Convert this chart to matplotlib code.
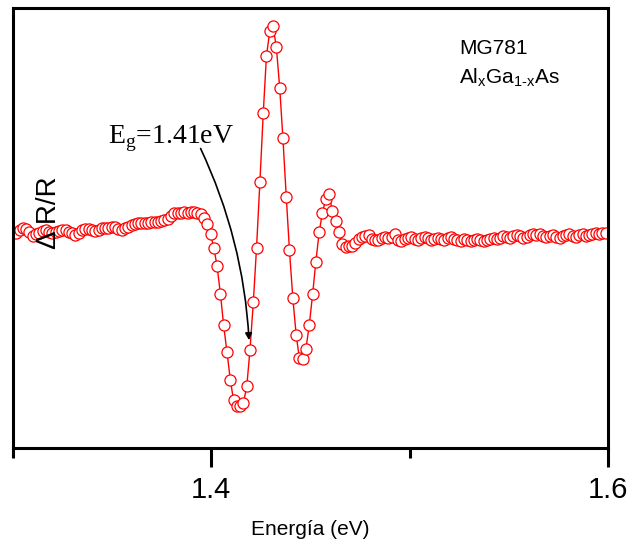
import matplotlib
matplotlib.use('Agg')
import matplotlib.pyplot as plt
from matplotlib.ticker import MultipleLocator

plt.rcParams['font.family'] = 'Liberation Sans'

# Photon energy (eV)
energy = [
    1.3000, 1.3017, 1.3033, 1.3050, 1.3066, 1.3083, 1.3100, 1.3116, 1.3133, 1.3149,
    1.3166, 1.3183, 1.3199, 1.3216, 1.3232, 1.3249, 1.3266, 1.3282, 1.3299, 1.3315,
    1.3332, 1.3349, 1.3365, 1.3382, 1.3398, 1.3415, 1.3432, 1.3448, 1.3465, 1.3481,
    1.3498, 1.3515, 1.3531, 1.3548, 1.3564, 1.3581, 1.3598, 1.3614, 1.3631, 1.3647,
    1.3664, 1.3681, 1.3697, 1.3714, 1.3730, 1.3747, 1.3764, 1.3780, 1.3797, 1.3813,
    1.3830, 1.3847, 1.3863, 1.3880, 1.3896, 1.3913, 1.3930, 1.3946, 1.3963, 1.3979,
    1.3996, 1.4013, 1.4029, 1.4046, 1.4062, 1.4079, 1.4096, 1.4112, 1.4129, 1.4145,
    1.4162, 1.4179, 1.4195, 1.4212, 1.4228, 1.4245, 1.4262, 1.4278, 1.4295, 1.4311,
    1.4328, 1.4345, 1.4361, 1.4378, 1.4394, 1.4411, 1.4428, 1.4444, 1.4461, 1.4477,
    1.4494, 1.4511, 1.4527, 1.4544, 1.4560, 1.4577, 1.4594, 1.4610, 1.4627, 1.4643,
    1.4660, 1.4677, 1.4693, 1.4710, 1.4726, 1.4743, 1.4760, 1.4776, 1.4793, 1.4809,
    1.4826, 1.4843, 1.4859, 1.4876, 1.4892, 1.4909, 1.4926, 1.4942, 1.4959, 1.4975,
    1.4992, 1.5009, 1.5025, 1.5042, 1.5058, 1.5075, 1.5092, 1.5108, 1.5125, 1.5141,
    1.5158, 1.5175, 1.5191, 1.5208, 1.5224, 1.5241, 1.5258, 1.5274, 1.5291, 1.5307,
    1.5324, 1.5341, 1.5357, 1.5374, 1.5390, 1.5407, 1.5424, 1.5440, 1.5457, 1.5473,
    1.5490, 1.5507, 1.5523, 1.5540, 1.5556, 1.5573, 1.5590, 1.5606, 1.5623, 1.5639,
    1.5656, 1.5673, 1.5689, 1.5706, 1.5722, 1.5739, 1.5756, 1.5772, 1.5789, 1.5805,
    1.5822, 1.5839, 1.5855, 1.5872, 1.5888, 1.5905, 1.5922, 1.5938, 1.5955, 1.5971,
    1.5988,
]

# Delta R / R (arbitrary units)
dr_r = [
    0.000, -0.005, 0.010, 0.020, 0.015, 0.000, -0.020, -0.010, -0.005, 0.005,
    0.010, 0.000, -0.005, 0.000, 0.005, 0.010, 0.010, 0.000, -0.005, -0.015,
    -0.005, 0.010, 0.015, 0.015, 0.010, 0.005, 0.010, 0.020, 0.020, 0.020,
    0.025, 0.025, 0.015, 0.010, 0.020, 0.025, 0.035, 0.040, 0.045, 0.045,
    0.045, 0.045, 0.050, 0.050, 0.050, 0.055, 0.060, 0.065, 0.080, 0.095,
    0.095, 0.095, 0.100, 0.095, 0.100, 0.100, 0.095, 0.090, 0.070, 0.040,
    -0.010, -0.080, -0.170, -0.310, -0.465, -0.600, -0.740, -0.840, -0.870, -0.870,
    -0.855, -0.770, -0.590, -0.350, -0.080, 0.250, 0.595, 0.880, 1.005, 1.030,
    0.925, 0.720, 0.470, 0.175, -0.090, -0.330, -0.515, -0.630, -0.635, -0.585,
    -0.465, -0.310, -0.150, 0.000, 0.095, 0.165, 0.190, 0.105, 0.055, 0.000,
    -0.060, -0.075, -0.070, -0.070, -0.055, -0.035, -0.025, -0.020, -0.015, -0.035,
    -0.040, -0.040, -0.030, -0.025, -0.030, -0.025, -0.010, -0.040, -0.045, -0.035,
    -0.030, -0.025, -0.035, -0.040, -0.030, -0.025, -0.030, -0.040, -0.035, -0.030,
    -0.035, -0.040, -0.030, -0.025, -0.035, -0.040, -0.045, -0.035, -0.040, -0.045,
    -0.040, -0.035, -0.040, -0.045, -0.040, -0.035, -0.030, -0.035, -0.030, -0.020,
    -0.025, -0.030, -0.020, -0.015, -0.020, -0.030, -0.025, -0.015, -0.010, -0.015,
    -0.010, -0.020, -0.025, -0.020, -0.015, -0.025, -0.030, -0.020, -0.015, -0.010,
    -0.020, -0.025, -0.015, -0.010, -0.020, -0.015, -0.010, -0.005, -0.010, -0.005,
    -0.005,
]

eg_label = 'E$_\\mathregular{g}$=1.41eV'
eg_value = 1.4191
sample_name = 'MG781'
alloy_label = 'Al$_\\mathregular{x}$Ga$_\\mathregular{1\u2010x}$As'

fig = plt.figure(figsize=(6.3, 5.45), dpi=100)
ax = fig.add_axes([0.0206, 0.178, 0.9444, 0.8073])

ax.plot(energy, dr_r, color='#ff0000', lw=1.0, marker='o', ms=8,
        mfc='white', mec='#ff0000', mew=0.9)

ax.set_xlim(1.3, 1.6)
ax.set_ylim(-1.08, 1.12)
ax.xaxis.set_major_locator(MultipleLocator(0.2))
ax.xaxis.set_minor_locator(MultipleLocator(0.1))
ax.set_xticks([1.4, 1.6])
ax.set_yticks([])
ax.tick_params(axis='x', which='major', direction='out', length=14, width=2.2,
               labelsize=21, pad=6)
ax.tick_params(axis='x', which='minor', direction='out', length=7, width=2.2)
for s in ax.spines.values():
    s.set_linewidth(2.2)

ax.set_xlabel('Energía (eV)', fontsize=15, labelpad=12)
ax.text(0.061, 0.534, '\u0394 R/R', transform=ax.transAxes, rotation=90,
        fontsize=20, ha='center', va='center')

ax.text(0.75, 0.895, sample_name, transform=ax.transAxes, fontsize=15)
ax.text(0.75, 0.828, alloy_label, transform=ax.transAxes, fontsize=15)

ax.text(1.3477, 0.445, eg_label, family='Liberation Serif', fontsize=20)
ax.annotate('', xy=(eg_value, -0.555), xytext=(1.394, 0.43),
            arrowprops=dict(arrowstyle='-|>', color='black', lw=1.2,
                            mutation_scale=10,
                            connectionstyle='arc3,rad=-0.1'))

plt.savefig('out.png', dpi=100)
